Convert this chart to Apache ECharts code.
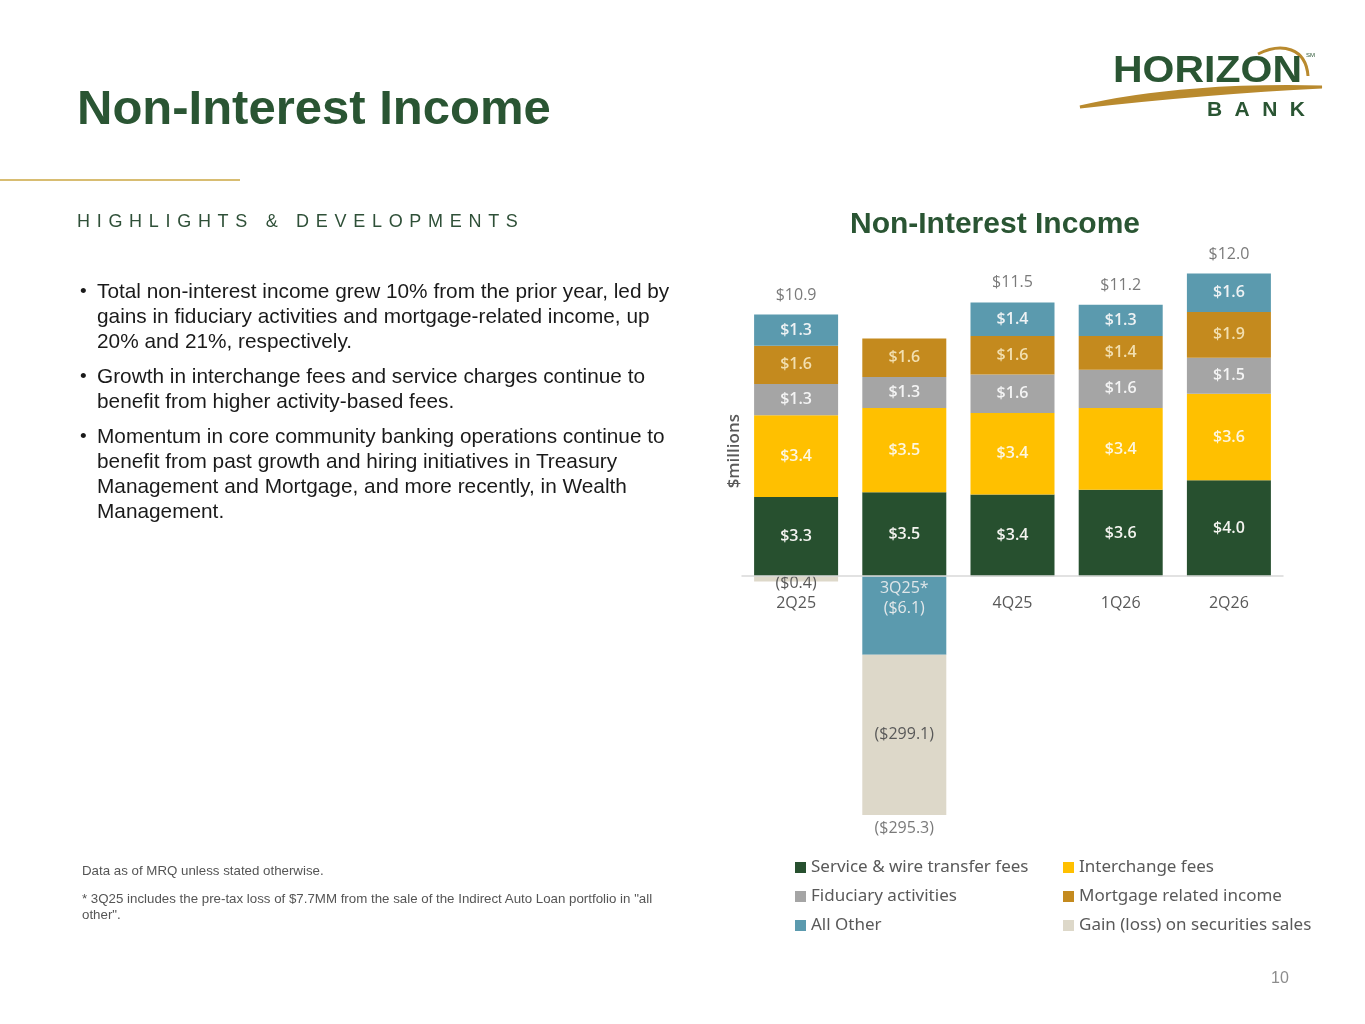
<!DOCTYPE html>
<html>
<head>
<meta charset="utf-8">
<title>Non-Interest Income</title>
<script src="https://cdn.jsdelivr.net/npm/echarts@6/dist/echarts.min.js"></script>
<style>
  body { margin: 0; background: #fff; }
  #page { position: relative; width: 1365px; height: 1024px; overflow: hidden; font-family: 'Liberation Sans', Arial, sans-serif; }
  #main { position: absolute; left: 0; top: 0; width: 1365px; height: 1024px; }
  .txt { position: absolute; z-index: 2; }
  #title { left: 77px; top: 83px; font-size: 49px; line-height: 1; font-weight: bold; color: #2a5533; margin: 0; }
  #rule { position: absolute; left: 0; top: 179px; width: 240px; height: 2px; background: #d8bd72; }
  #hl { left: 77px; top: 212px; font-size: 18px; line-height: 1; letter-spacing: 6.7px; color: #2f5038; }
  #bullets { left: 80px; top: 278px; width: 640px; font-size: 20.8px; line-height: 25px; color: #1a1a1a; margin: 0; padding: 0; list-style: none; }
  #bullets li { position: relative; padding-left: 17px; margin-bottom: 10px; }
  #bullets li::before { content: "\2022"; position: absolute; left: 0; top: 0; font-size: 19px; }
  #notes { left: 82px; top: 863px; font-size: 13.3px; line-height: 16px; color: #555; }
  #notes p { margin: 0 0 12px 0; }
  #pnum { left: 1271px; top: 969px; font-size: 16px; color: #8c8c8c; }
  #logo { position: absolute; left: 1070px; top: 40px; z-index: 2; }
</style>
</head>
<body>
<div id="page">
  <div id="main"></div>
  <h1 class="txt" id="title">Non-Interest Income</h1>
  <div id="rule"></div>
  <div class="txt" id="hl">HIGHLIGHTS &amp; DEVELOPMENTS</div>
  <ul class="txt" id="bullets">
    <li>Total non-interest income grew 10% from the prior year, led by<br>gains in fiduciary activities and mortgage-related income, up<br>20% and 21%, respectively.</li>
    <li>Growth in interchange fees and service charges continue to<br>benefit from higher activity-based fees.</li>
    <li>Momentum in core community banking operations continue to<br>benefit from past growth and hiring initiatives in Treasury<br>Management and Mortgage, and more recently, in Wealth<br>Management.</li>
  </ul>
  <div class="txt" id="notes">
    <p>Data as of MRQ unless stated otherwise.</p>
    <p>* 3Q25 includes the pre-tax loss of $7.7MM from the sale of the Indirect Auto Loan portfolio in "all<br>other".</p>
  </div>
  <div class="txt" id="pnum">10</div>
  <svg id="logo" width="260" height="90" viewBox="0 0 260 90">
    <path d="M10 67 C 80 50, 170 45, 252 47 C 170 51, 90 58, 10 67 Z" fill="#b98a2e" stroke="#b98a2e" stroke-width="3"/>
    <path d="M188 14 C 212 2, 236 8, 238 36" fill="none" stroke="#b98a2e" stroke-width="3"/>
    <text x="43" y="42" font-family="'Liberation Sans', Arial" font-weight="bold" font-size="37" fill="#2a5533" textLength="189" lengthAdjust="spacingAndGlyphs">HORIZON</text>
    <text x="236" y="17" font-family="'Liberation Sans', Arial" font-size="6" fill="#2a5533">SM</text>
    <text x="137" y="76" font-family="'Liberation Sans', Arial" font-weight="bold" font-size="21" fill="#2a5533" textLength="98" lengthAdjust="spacing">BANK</text>
  </svg>
</div>
<script>
var quarters = ['2Q25', '3Q25*', '4Q25', '1Q26', '2Q26'];
var serviceFees = [3.3, 3.5, 3.4, 3.6, 4.0];
var interchangeFees = [3.4, 3.5, 3.4, 3.4, 3.6];
var fiduciary = [1.3, 1.3, 1.6, 1.6, 1.5];
var mortgage = [1.6, 1.6, 1.6, 1.4, 1.9];
var allOther = [1.3, -6.1, 1.4, 1.3, 1.6];
var securitiesGain = [-0.4, -299.1, null, null, null];
var totals = [10.9, -295.3, 11.5, 11.2, 12.0];

var seriesNames = ['Service & wire transfer fees', 'Interchange fees', 'Fiduciary activities',
  'Mortgage related income', 'All Other', 'Gain (loss) on securities sales'];
var seriesValues = [serviceFees, interchangeFees, fiduciary, mortgage, allOther, securitiesGain];
var seriesColors = ['#27502f', '#ffc000', '#a5a5a5', '#c48a1e', '#5b9aae', '#ddd8c9'];
var labelColors = ['#f4f4f0', '#fdf6e0', '#f4f4f4', '#f2dfb0', '#eef2f4', '#595959'];

var chartDom = document.getElementById('main');
var myChart = echarts.init(chartDom);

function money(v) {
  if (v == null) return '';
  return v < 0 ? '($' + (-v).toFixed(1) + ')' : '$' + v.toFixed(1);
}

// top of the positive stack and bottom of the negative stack per quarter
var stackTop = [], stackBottom = [];
for (var i = 0; i < quarters.length; i++) {
  var up = 0, down = 0;
  seriesValues.forEach(function (arr) {
    if (arr[i] > 0) up += arr[i];
    if (arr[i] < 0) down += arr[i];
  });
  stackTop.push(up);
  stackBottom.push(down);
}

var barSeries = seriesNames.map(function (name, k) {
  return {
    name: name,
    type: 'bar',
    stack: 'q',
    barWidth: 84,
    itemStyle: { color: seriesColors[k] },
    label: {
      show: true,
      position: 'inside',
      color: labelColors[k],
      fontFamily: 'Open Sans',
      fontWeight: k === 5 ? 'normal' : 600,
      fontSize: 16,
      formatter: function (p) { return money(p.value); }
    },
    data: seriesValues[k].map(function (v) {
      // the negative "all other" bar carries its label just under the axis label
      if (k === 4 && v < 0) {
        return { value: v, label: { position: 'insideTop', distance: 24, fontWeight: 'normal', color: '#e4e8ea' } };
      }
      // tiny bars: label hangs just below the axis
      if (v != null && Math.abs(v) < 1) {
        return { value: v, label: { offset: [0, 5] } };
      }
      return v;
    })
  };
});

var totalSeries = {
  name: 'total',
  type: 'scatter',
  symbolSize: 1,
  itemStyle: { color: 'transparent' },
  label: {
    show: true,
    color: '#595959',
    fontFamily: 'Open Sans',
    fontSize: 16,
    formatter: function (p) { return money(totals[p.dataIndex]); }
  },
  data: totals.map(function (t, i) {
    return t >= 0
      ? { value: stackTop[i], label: { position: 'top', distance: 11 } }
      : { value: stackBottom[i], label: { position: 'bottom', distance: 5 } };
  }),
  z: 5
};

var gridTop = 264, gridBottom = 209;

var option = {
  backgroundColor: '#fff',
  animation: false,
  title: {
    text: 'Non-Interest Income',
    left: 990,
    textAlign: 'center',
    top: 205,
    textStyle: { fontFamily: 'Liberation Sans', fontWeight: 'bold', fontSize: 30, color: '#2a5533' }
  },
  legend: [{
    data: [seriesNames[0], seriesNames[2], seriesNames[4]],
    orient: 'vertical',
    left: 790,
    top: 854,
    itemWidth: 11,
    itemHeight: 11,
    itemGap: 12,
    icon: 'rect',
    textStyle: { fontFamily: 'Noto Sans', fontSize: 17, color: '#595959' }
  }, {
    data: [seriesNames[1], seriesNames[3], seriesNames[5]],
    orient: 'vertical',
    left: 1058,
    top: 854,
    itemWidth: 11,
    itemHeight: 11,
    itemGap: 12,
    icon: 'rect',
    textStyle: { fontFamily: 'Noto Sans', fontSize: 17, color: '#595959' }
  }],
  grid: { left: 742, right: 82, top: gridTop, bottom: gridBottom },
  xAxis: {
    type: 'category',
    data: quarters,
    z: 10,
    offset: 0,
    axisLine: { onZero: false, lineStyle: { color: '#d9d9d9', width: 1.5 } },
    axisTick: { show: false },
    axisLabel: {
      margin: 3,
      interval: 0,
      formatter: function (v, idx) {
        return allOther[idx] < 0 ? '{on|' + v + '}' : '{n|' + v + '}';
      },
      rich: {
        n: { fontFamily: 'Open Sans', fontSize: 16, color: '#595959', padding: [16, 0, 0, 0] },
        on: { fontFamily: 'Open Sans', fontSize: 16, color: '#dfe6e9', padding: [1, 0, 0, 0] }
      }
    }
  },
  yAxis: {
    type: 'value',
    min: stackBottom[1],
    max: 13,
    axisLine: { show: false },
    axisTick: { show: false },
    axisLabel: { show: false },
    splitLine: { show: false },
    breaks: [
      { start: -6, end: -0.02, gap: 3.15 },
      { start: -304, end: -7, gap: 4.57 }
    ],
    breakArea: { show: false, itemStyle: { opacity: 0 } }
  },
  graphic: [{
    type: 'text',
    left: 726,
    top: 414,
    rotation: Math.PI / 2,
    style: { text: '$millions', fontFamily: 'Open Sans', fontSize: 17, fontWeight: 600, fill: '#595959' }
  }],
  series: barSeries.concat([totalSeries])
};

myChart.setOption(option);

// put the category axis on the zero line (axis breaks keep it at the grid edge)
var zeroY = myChart.convertToPixel({ yAxisIndex: 0 }, 0);
var bottomY = myChart.getHeight() - gridBottom;
myChart.setOption({ xAxis: { offset: zeroY - bottomY } });
</script>
</body>
</html>
